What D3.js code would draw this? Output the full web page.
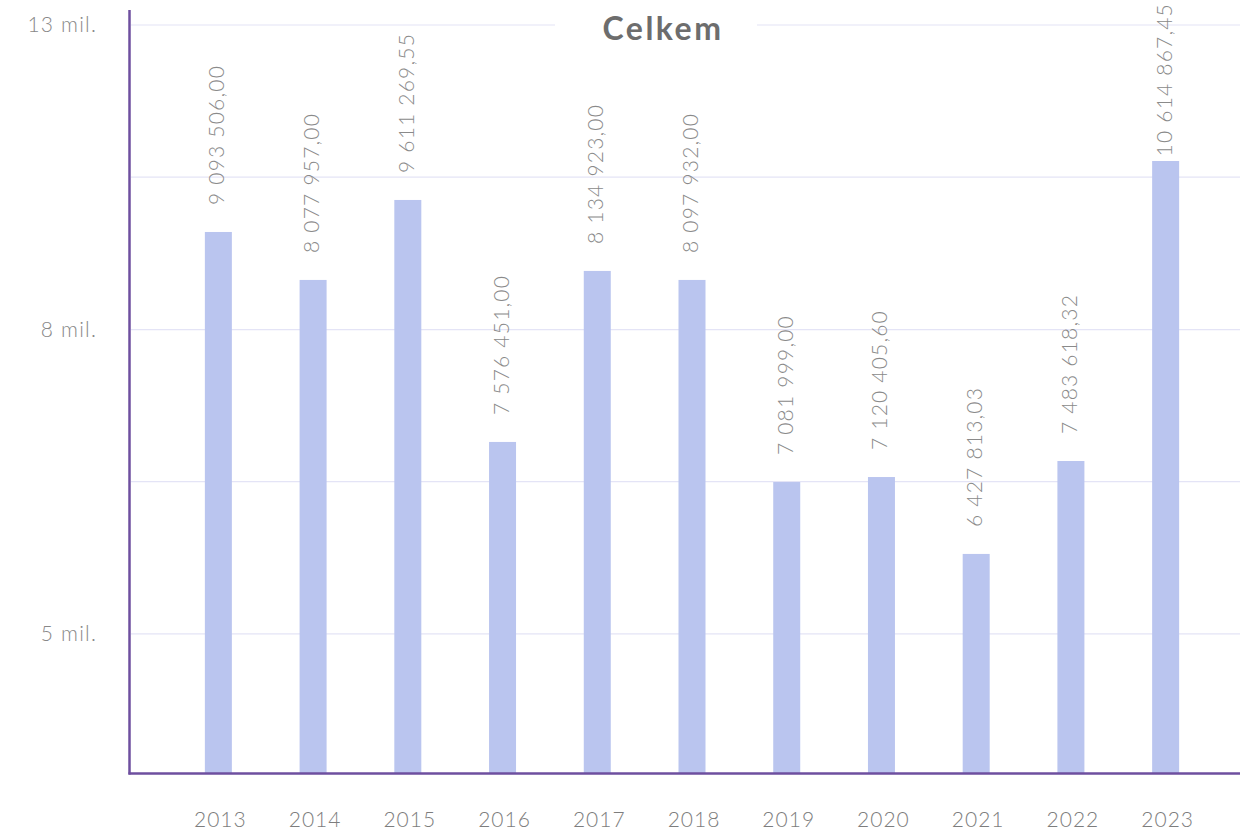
<!DOCTYPE html>
<html>
<head>
<meta charset="utf-8">
<script src="https://cdn.jsdelivr.net/npm/d3@7"></script>
<style>
  html, body { margin: 0; padding: 0; background: #ffffff; }
  svg { display: block; }
  text { font-family: "Lato", "Open Sans", sans-serif; }
</style>
</head>
<body>
<svg id="chart" width="1258" height="835"></svg>
<script>
// ---- data ----
const years = ["2013","2014","2015","2016","2017","2018","2019","2020","2021","2022","2023"];
// amounts shown in the value labels
const amounts = [9093506.00, 8077957.00, 9611269.55, 7576451.00, 8134923.00, 8097932.00,
                 7081999.00, 7120405.60, 6427813.03, 7483618.32, 10614867.45];
// bar heights as read against the drawn axis
const barHeights = [9.395e6, 8.714e6, 9.879e6, 6.758e6, 8.838e6, 8.714e6,
                    6.346e6, 6.396e6, 5.669e6, 6.559e6, 10.502e6];
// gridlines and their labels
const gridValues = [5.0e6, 6.35e6, 8.06e6, 10.24e6, 13.0e6];
const gridLabels = ["5 mil.", "", "8 mil.", "", "13 mil."];
const title = "Celkem";

// ---- layout ----
const svg = d3.select("#chart");
const plot = { left: 130, right: 1240, top: 25, bottom: 773 };

const x = d3.scalePoint().domain(years).range([171, 1213]).padding(0.5);
const y = d3.scaleLog().domain([4.02e6, 13e6]).range([plot.bottom, plot.top]);

const loc = d3.formatLocale({ decimal: ",", thousands: "\u00a0", grouping: [3], currency: ["", ""] });
const fmt = loc.format(",.2f");

// gridlines
svg.append("g").selectAll("line").data(gridValues).join("line")
  .attr("x1", plot.left + 1).attr("x2", plot.right)
  .attr("y1", d => y(d)).attr("y2", d => y(d))
  .attr("stroke", "#e4e4f6").attr("stroke-width", 1.2);

// y tick labels
svg.append("g").selectAll("text").data(gridValues).join("text")
  .attr("x", 97).attr("y", d => y(d))
  .attr("dy", "0.35em")
  .attr("text-anchor", "end")
  .attr("font-size", 21).attr("font-weight", 300)
  .attr("letter-spacing", 1.2)
  .attr("fill", "#888888")
  .text((d, i) => gridLabels[i]);

// bars
const barW = 27;
svg.append("g").selectAll("rect").data(years).join("rect")
  .attr("x", d => x(d) - barW / 2)
  .attr("width", barW)
  .attr("y", (d, i) => y(barHeights[i]))
  .attr("height", (d, i) => plot.bottom - y(barHeights[i]))
  .attr("fill", "#bac5ef");

// value labels (kept inside the picture)
svg.append("g").selectAll("text").data(years).join("text")
  .attr("text-anchor", "start")
  .attr("font-size", 21).attr("font-weight", 300)
  .attr("letter-spacing", 1.2)
  .attr("fill", "#8a8a8a")
  .text((d, i) => fmt(amounts[i]))
  .attr("transform", function (d, i) {
    const len = this.getComputedTextLength();
    const base = Math.max(y(barHeights[i]) - 27, len + 3);
    return `translate(${x(d) + 6},${base}) rotate(-90)`;
  });

// axes lines
svg.append("line")
  .attr("x1", 129.5).attr("x2", 129.5).attr("y1", 10).attr("y2", 774.5)
  .attr("stroke", "#6e4f9f").attr("stroke-width", 2.5);
svg.append("line")
  .attr("x1", 128.5).attr("x2", plot.right).attr("y1", 773.5).attr("y2", 773.5)
  .attr("stroke", "#6e4f9f").attr("stroke-width", 2.5);

// x labels
svg.append("g").selectAll("text").data(years).join("text")
  .attr("x", d => x(d) + 2).attr("y", 827)
  .attr("text-anchor", "middle")
  .attr("font-size", 21).attr("font-weight", 300)
  .attr("letter-spacing", 1)
  .attr("fill", "#7d7d7d")
  .text(d => d);

// title with white backdrop
svg.append("rect").attr("x", 555).attr("y", 8).attr("width", 202).attr("height", 40).attr("fill", "#ffffff");
svg.append("text")
  .attr("x", 663).attr("y", 40)
  .attr("text-anchor", "middle")
  .attr("font-size", 32).attr("font-weight", 700)
  .attr("letter-spacing", 2.5)
  .attr("fill", "#6d6d6d")
  .text(title);
</script>
</body>
</html>
